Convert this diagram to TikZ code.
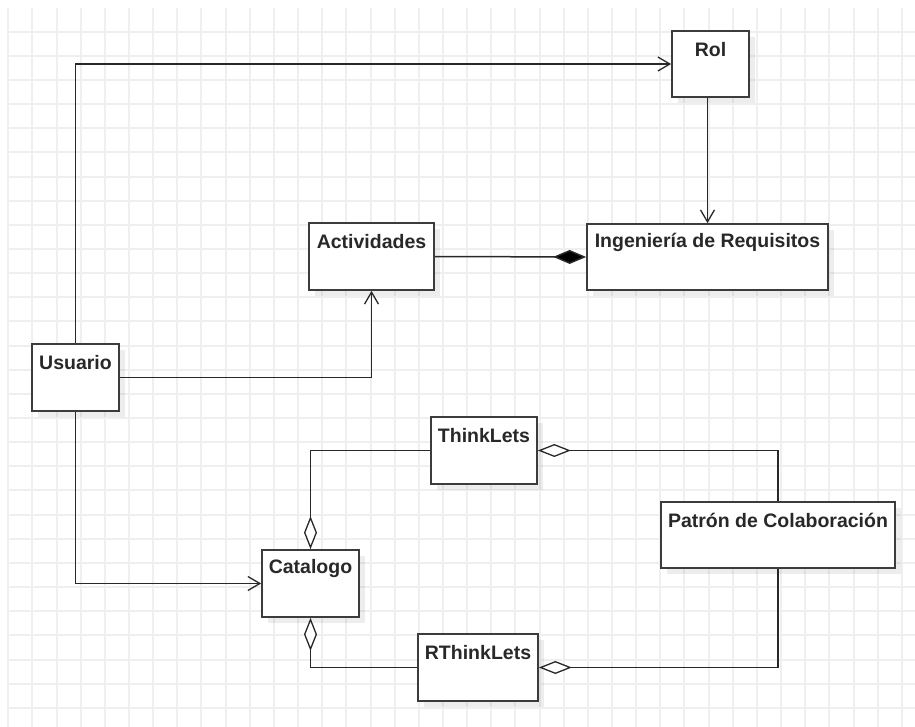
\documentclass[tikz,border=0pt]{standalone}
\usepackage{fontspec}
\setmainfont{Liberation Sans}
\usetikzlibrary{arrows.meta,shadows}
\definecolor{gridc}{RGB}{239,239,239}
\definecolor{edgec}{RGB}{60,60,60}
\definecolor{linkc}{RGB}{40,40,40}
\definecolor{txtc}{RGB}{40,40,40}
\begin{document}
\begin{tikzpicture}[x=1pt,y=-1pt,
  gridline/.style={draw=gridc,line width=2pt},
  cls/.style={rectangle,draw=edgec,line width=1.7pt,fill=white,inner sep=0pt,
    drop shadow={shadow xshift=6pt,shadow yshift=-6pt,opacity=0.07,fill=black}},
  lbl/.style={anchor=center,text=txtc,font=\bfseries\fontsize{19.5}{22}\selectfont,inner sep=0pt},
  link/.style={draw=linkc,line width=1.5pt},
  assoc/.style={link,-{Straight Barb[length=12pt,width=14pt,line width=1.3pt]}},
  compo/.style={link,-{Diamond[length=33pt,width=14pt,fill=black]}},
  aggr/.style={link,-{Diamond[length=33pt,width=13pt,fill=white,line width=1.3pt]}}]
\useasboundingbox (0,0) rectangle (915,727);
\fill[white] (0,0) rectangle (915,727);
% background grid, snapped to whole units so every line looks alike
\foreach \i in {0,...,37} {
  \pgfmathsetmacro\gx{round(8.3+24.15*\i)}
  \draw[gridline] (\gx,8) -- (\gx,727);
}
\foreach \j in {1,...,29} {
  \pgfmathsetmacro\gy{round(7.5+24.15*\j)}
  \draw[gridline] (8,\gy) -- (915,\gy);
}
% classes
\node[cls,minimum width=77pt,minimum height=66pt,
  label={[lbl,yshift=-19pt]north:Rol}] (rol) at (710.5,64) {};
\node[cls,minimum width=125pt,minimum height=67pt,
  label={[lbl,yshift=-19pt]north:Actividades}] (act) at (371.5,256.5) {};
\node[cls,minimum width=241pt,minimum height=66pt,
  label={[lbl,yshift=-19pt]north:Ingeniería de Requisitos}] (ing) at (707.5,257) {};
\node[cls,minimum width=87pt,minimum height=67pt,
  label={[lbl,yshift=-19pt]north:Usuario}] (usr) at (75.5,377.5) {};
\node[cls,minimum width=106pt,minimum height=67pt,
  label={[lbl,yshift=-19pt]north:ThinkLets}] (tl) at (484,450.5) {};
\node[cls,minimum width=234pt,minimum height=66pt,
  label={[lbl,yshift=-19pt]north:Patrón de Colaboración}] (pat) at (778,535) {};
\node[cls,minimum width=97pt,minimum height=67pt,
  label={[lbl,yshift=-19pt]north:Catalogo}] (cat) at (310.5,583.5) {};
\node[cls,minimum width=120pt,minimum height=67pt,
  label={[lbl,yshift=-19pt]north:RThinkLets}] (rtl) at (478,667.5) {};
% relations
\draw[assoc] (usr.north) |- (rol.west);
\draw[assoc] (ing.north |- rol.south) -- (ing.north);
\draw[compo] (act.east) -- (ing.west);
\draw[assoc] (usr.east) -| (act.south);
\draw[assoc] (usr.south) |- (cat.west);
\draw[aggr] (tl.west) -| (cat.north);
\draw[aggr] (rtl.west) -| (cat.south);
\draw[aggr] (pat.north) |- (tl.east);
\draw[aggr] (pat.south) |- (rtl.east);
\end{tikzpicture}
\end{document}
